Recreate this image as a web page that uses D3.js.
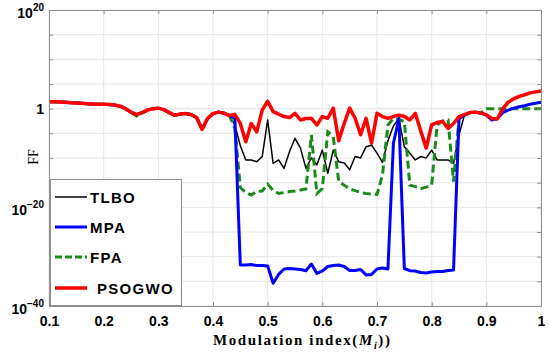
<!DOCTYPE html>
<html>
<head>
<meta charset="utf-8">
<script src="https://cdn.jsdelivr.net/npm/d3@7"></script>
<style>
body { margin: 0; background: #fff; }
svg { display: block; }
</style>
</head>
<body>
<svg width="550" height="356"></svg>
<script>
// modulation index samples (0.10 .. 1.00, step 0.01)
var modIndex = d3.range(10, 101).map(function(d) { return d / 100; });

// FF values, stored as log10(FF)
var tlboLog = [
	1.4,1.4,1.35,1.3,1.2,1.15,1.1,1.0,0.95,0.9, 0.9,0.85,0.75,0.5,0.0,-0.7,-1.2,-0.8,-0.3,0.0,
	0.1,-0.2,-0.8,-1.35,-1.1,-1.0,-1.2,-1.8,-4.2,-2.0, -1.0,-0.7,-0.9,-1.4,
	-3.3,-7.5,-10.4,-10.4,-10.75,-9.7,-2.3,-11.1,-10.4,-12.1,
	-8.7,-6.0,-8.0,-12.1,-10.0,-11.4,-8.4,-13.1,-8.4,-10.75,
	-11.0,-12.4,-9.7,-10.0,-7.7,-7.4,-9.0,-10.9,-6.5,-3.5,
	-2.0,-7.7,-9.0,-10.4,-9.7,-10.0,-8.4,-10.4,-10.4,-10.4,
	-11.1,-5.3,-1.3,-0.8,-0.7,-0.9,-1.3,-2.3,-2.0,-0.8,
	-0.3,0.1,0.4,0.6,0.9,1.1,1.3
];
var mpaLog = [
	1.4,1.4,1.35,1.3,1.2,1.15,1.1,1.0,0.95,0.9, 0.9,0.85,0.75,0.5,0.0,-0.7,-1.2,-0.8,-0.3,0.0,
	0.1,-0.2,-0.8,-1.35,-1.1,-1.0,-1.2,-1.8,-4.2,-2.0, -1.0,-0.7,-0.9,-1.4,
	-1.9,-31.7,-31.7,-31.6,-31.8,-31.8,-31.9,-35.4,-33.6,-32.5,
	-32.4,-32.5,-32.6,-32.85,-31.5,-33.4,-32.9,-32.0,-31.8,-31.7,
	-32.0,-32.8,-32.8,-32.6,-33.7,-33.6,-32.5,-32.3,-32.5,-7.0,
	-2.0,-32.4,-32.85,-32.9,-33.2,-33.3,-33.1,-33.0,-33.0,-32.8,
	-32.7,-2.0,-1.3,-0.8,-0.7,-0.9,-1.3,-2.3,-2.0,-0.8,
	-0.3,0.1,0.4,0.6,0.9,1.1,1.3
];
var fpaLog = [
	1.4,1.4,1.35,1.3,1.2,1.15,1.1,1.0,0.95,0.9, 0.9,0.85,0.75,0.5,0.0,-0.8,-1.5,-0.9,-0.3,0.0,
	0.1,-0.2,-0.8,-1.35,-1.1,-1.0,-1.2,-1.8,-4.2,-2.0, -1.0,-0.7,-0.9,-1.4,
	-4.0,-16.0,-17.0,-17.5,-16.8,-16.7,-15.3,-16.6,-17.2,-17.0,
	-16.8,-16.7,-16.5,-16.3,-5.3,-17.2,-16.2,-4.7,-5.7,-14.8,
	-15.5,-16.3,-16.6,-17.0,-17.2,-17.3,-17.4,-13.5,-3.3,-2.0,
	-2.2,-2.6,-15.5,-15.8,-16.2,-15.9,-15.5,-3.3,-2.5,-2.3,
	-14.8,-2.0,-1.3,-0.8,-0.7,-0.9,0.0,0.0,0.0,0.0,
	0.0,0.0,0.0,0.0,0.0,0.0,0.0
];
var psogwoLog = [
	1.4,1.4,1.35,1.3,1.2,1.15,1.1,1.0,0.95,0.9, 0.9,0.85,0.75,0.5,0.0,-0.7,-1.2,-0.8,-0.3,0.0,
	0.1,-0.2,-0.8,-1.35,-1.1,-1.0,-1.2,-1.8,-4.2,-2.0, -1.0,-0.7,-0.9,-1.4,
	-1.15,-3.0,-6.7,-3.0,-4.7,-0.3,1.5,-0.6,-1.1,-1.6,
	-1.8,-0.95,-2.3,-2.0,-1.95,-3.3,-1.6,-1.95,0.1,-6.5,
	-3.0,0.1,-1.95,-5.3,-1.95,-7.0,-0.95,-1.6,-1.95,-1.6,
	-1.3,-1.6,-2.3,-0.95,-4.5,-8.0,-3.3,-2.8,-2.6,-4.0,
	-3.0,-1.6,-1.2,-0.8,-0.7,-0.9,-1.2,-2.0,-2.1,0.0,
	1.3,2.0,2.5,2.8,3.2,3.4,3.6
];

var seriesNames = ["TLBO", "MPA", "FPA", "PSOGWO"];
var seriesColors = ["#000000", "#0000ff", "#1a8a1a", "#ff0000"];

var xTicks = [0.1, 0.2, 0.3, 0.4, 0.5, 0.6, 0.7, 0.8, 0.9, 1];
var xTickLabels = ["0.1", "0.2", "0.3", "0.4", "0.5", "0.6", "0.7", "0.8", "0.9", "1"];
var yGridExp = [20, 15, 10, 5, 0, -5, -10, -15, -20, -25, -30, -35, -40];
var yLabelExp = [20, 0, -20, -40];

function draw_chart() {
	var svg = d3.select("svg");
	var left = 49, right = 541, plotTop = 10, plotBottom = 306;
	var axisGray = "#8f8f8f";

	var x = d3.scaleLinear().domain([0.1, 1]).range([left, right]);
	var y = d3.scaleLog().domain([1e-40, 1e20]).range([plotBottom, plotTop]);

	// grid
	var grid = svg.append("g").attr("class", "grid");
	grid.selectAll("line.gx")
		.data(xTicks)
		.enter().append("line")
		.attr("x1", function(d) { return x(d); })
		.attr("x2", function(d) { return x(d); })
		.attr("y1", plotTop).attr("y2", plotBottom)
		.attr("stroke", "#e6e6e6").attr("stroke-width", 1);
	grid.selectAll("line.gy")
		.data(yGridExp)
		.enter().append("line")
		.attr("x1", left).attr("x2", right)
		.attr("y1", function(d) { return y(Math.pow(10, d)); })
		.attr("y2", function(d) { return y(Math.pow(10, d)); })
		.attr("stroke", "#e6e6e6").attr("stroke-width", 1);

	// lines
	var line = d3.line()
		.x(function(d) { return x(d[0]); })
		.y(function(d) { return y(Math.pow(10, d[1])); });

	function pts(arr) {
		return modIndex.map(function(m, i) { return [m, arr[i]]; });
	}

	var plot = svg.append("g").attr("class", "lines");
	plot.append("path").attr("d", line(pts(tlboLog)))
		.attr("fill", "none").attr("stroke", seriesColors[0]).attr("stroke-width", 1.5)
		.attr("stroke-linejoin", "round");
	plot.append("path").attr("d", line(pts(fpaLog)))
		.attr("fill", "none").attr("stroke", seriesColors[2]).attr("stroke-width", 3)
		.attr("stroke-dasharray", "8,4");
	plot.append("path").attr("d", line(pts(mpaLog)))
		.attr("fill", "none").attr("stroke", seriesColors[1]).attr("stroke-width", 3)
		.attr("stroke-linejoin", "round");
	plot.append("path").attr("d", line(pts(psogwoLog)))
		.attr("fill", "none").attr("stroke", seriesColors[3]).attr("stroke-width", 3.5)
		.attr("stroke-linejoin", "round");

	// axes (ticks point inward)
	var xAxis = d3.axisBottom(x).tickValues(xTicks)
		.tickFormat(function(d, i) { return xTickLabels[i]; })
		.tickSize(-4).tickPadding(10);
	var gx = svg.append("g").attr("transform", "translate(0," + plotBottom + ")").call(xAxis);
	gx.select(".domain").attr("stroke", axisGray);
	gx.selectAll(".tick line").attr("stroke", axisGray);
	gx.selectAll("text")
		.attr("fill", "#000")
		.style("font-family", "'Liberation Sans', Arial, sans-serif")
		.style("font-size", "14px").style("font-weight", "bold");

	var gxTop = svg.append("g").attr("transform", "translate(0," + plotTop + ")")
		.call(d3.axisTop(x).tickValues(xTicks).tickFormat("").tickSize(-4));
	gxTop.select(".domain").attr("stroke", axisGray);
	gxTop.selectAll(".tick line").attr("stroke", axisGray);

	var yTickVals = yGridExp.map(function(e) { return Math.pow(10, e); });
	var gy = svg.append("g").attr("transform", "translate(" + left + ",0)")
		.call(d3.axisLeft(y).tickValues(yTickVals).tickFormat("").tickSize(-4));
	gy.select(".domain").attr("stroke", axisGray);
	gy.selectAll(".tick line").attr("stroke", axisGray);

	var gyR = svg.append("g").attr("transform", "translate(" + right + ",0)")
		.call(d3.axisRight(y).tickValues(yTickVals).tickFormat("").tickSize(-4));
	gyR.select(".domain").attr("stroke", axisGray);
	gyR.selectAll(".tick line").attr("stroke", axisGray);

	// y tick labels, 10^n
	var ylab = svg.append("g")
		.style("font-family", "'Liberation Sans', Arial, sans-serif")
		.style("font-weight", "bold").attr("fill", "#000");
	yLabelExp.forEach(function(e) {
		var yy = y(Math.pow(10, e));
		if (e === 0) {
			ylab.append("text").attr("x", 44).attr("y", yy + 5)
				.attr("text-anchor", "end").style("font-size", "14px").text("1");
			return;
		}
		var t = ylab.append("text").attr("x", 44).attr("y", yy + 7.5)
			.attr("text-anchor", "end");
		t.append("tspan").style("font-size", "14px").text("10");
		t.append("tspan").attr("dy", -7).style("font-size", "10px")
			.text(e < 0 ? "\u2212" + (-e) : String(e));
	});

	// axis titles
	svg.append("text")
		.attr("transform", "translate(38,157) rotate(-90)")
		.attr("text-anchor", "middle")
		.style("font-family", "'Liberation Serif', 'Times New Roman', serif")
		.style("font-size", "14px")
		.text("FF");

	var xl = svg.append("text")
		.attr("x", 213).attr("y", 345)
		.style("font-family", "'Liberation Serif', 'Times New Roman', serif")
		.style("font-size", "15px").style("font-weight", "bold")
		.style("letter-spacing", "1.6px");
	xl.append("tspan").text("Modulation index(");
	xl.append("tspan").style("font-style", "italic").text("M");
	xl.append("tspan").attr("dy", 4).style("font-style", "italic").style("font-size", "10px").text("i");
	xl.append("tspan").attr("dy", -4).text("))");

	// legend
	var legend = svg.append("g").attr("class", "legend");
	legend.append("rect")
		.attr("x", 50.5).attr("y", 179.5).attr("width", 131).attr("height", 126)
		.attr("fill", "#fff").attr("stroke", axisGray);

	var legendY = [197, 227, 257, 288];
	var legendStyle = [
		{ w: 1.5, dash: null, tx: 90 },
		{ w: 3, dash: null, tx: 90 },
		{ w: 3, dash: "7,3", tx: 90 },
		{ w: 3.5, dash: null, tx: 97 }
	];
	seriesNames.forEach(function(name, i) {
		var g = legend.append("g");
		g.append("line")
			.attr("x1", 55).attr("x2", 87)
			.attr("y1", legendY[i]).attr("y2", legendY[i])
			.attr("stroke", seriesColors[i])
			.attr("stroke-width", legendStyle[i].w)
			.attr("stroke-dasharray", legendStyle[i].dash);
		g.append("text")
			.attr("x", legendStyle[i].tx).attr("y", legendY[i] + 5.5)
			.style("font-family", "'Liberation Sans', Arial, sans-serif")
			.style("font-size", "15px").style("font-weight", "bold")
			.style("letter-spacing", "1.3px")
			.text(name);
	});
}

draw_chart();
</script>
</body>
</html>
